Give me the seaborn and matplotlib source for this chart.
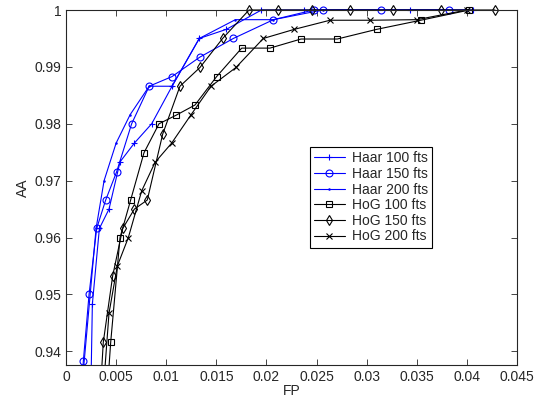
import numpy as np
import matplotlib
matplotlib.use("Agg")
import matplotlib.pyplot as plt
from matplotlib.patches import Rectangle
from matplotlib.ticker import FuncFormatter
import seaborn as sns

# values
haar100_fp = [0.0025, 0.00263, 0.00333, 0.00429, 0.00539, 0.00682, 0.00855, 0.01058, 0.0133, 0.0160, 0.0195, 0.0237, 0.0343, 0.0406]
haar100_aa = [0.935, 0.9483, 0.9616, 0.965, 0.9733, 0.9766, 0.980, 0.9866, 0.995, 0.9966, 1.0, 1.0, 1.0, 1.0]

haar150_fp = [0.0016, 0.00173, 0.0023, 0.00306, 0.00396, 0.00506, 0.00655, 0.0083, 0.01058, 0.01334, 0.0167, 0.0207, 0.0247, 0.0256, 0.0314, 0.0382]
haar150_aa = [0.935, 0.9383, 0.950, 0.9616, 0.9666, 0.9716, 0.980, 0.9866, 0.9883, 0.9917, 0.995, 0.9983, 1.0, 1.0, 1.0, 1.0]

haar200_fp = [0.0016, 0.0030, 0.0038, 0.0050, 0.0064, 0.0083, 0.01058, 0.0133, 0.0169, 0.0207, 0.0256, 0.0400]
haar200_aa = [0.934, 0.9616, 0.970, 0.9766, 0.9816, 0.9866, 0.9866, 0.995, 0.9983, 0.9983, 1.0, 1.0]

hog100_fp = [0.0042, 0.00446, 0.00539, 0.00645, 0.00778, 0.00928, 0.01098, 0.01287, 0.01503, 0.01753, 0.02035, 0.02345, 0.02707, 0.0310, 0.0354, 0.04024]
hog100_aa = [0.935, 0.9416, 0.960, 0.9666, 0.9749, 0.980, 0.9815, 0.9833, 0.9883, 0.9933, 0.9933, 0.9949, 0.9949, 0.9966, 0.9982, 1.0]

hog150_fp = [0.0035, 0.00372, 0.00466, 0.00566, 0.00682, 0.00811, 0.00965, 0.01137, 0.01337, 0.01563, 0.01826, 0.0212, 0.0245, 0.02834, 0.03266, 0.0374, 0.0428]
hog150_aa = [0.935, 0.9416, 0.9533, 0.9616, 0.965, 0.9666, 0.9782, 0.9866, 0.9899, 0.995, 1.0, 1.0, 1.0, 1.0, 1.0, 1.0, 1.0]

hog200_fp = [0.0038, 0.00429, 0.00512, 0.00622, 0.00755, 0.00888, 0.01054, 0.01244, 0.01447, 0.01696, 0.01969, 0.02278, 0.02634, 0.03033, 0.0350, 0.0400]
hog200_aa = [0.935, 0.9467, 0.955, 0.960, 0.9682, 0.9732, 0.9766, 0.9815, 0.9866, 0.9899, 0.995, 0.9966, 0.9982, 0.9982, 0.9983, 1.0]

series = [
    ("Haar 100 fts", haar100_fp, haar100_aa, "blue", "+"),
    ("Haar 150 fts", haar150_fp, haar150_aa, "blue", "o"),
    ("Haar 200 fts", haar200_fp, haar200_aa, "blue", "."),
    ("HoG 100 fts", hog100_fp, hog100_aa, "black", "s"),
    ("HoG 150 fts", hog150_fp, hog150_aa, "black", "d"),
    ("HoG 200 fts", hog200_fp, hog200_aa, "black", "x"),
]

sns.set_style("ticks")
plt.rcParams['font.family'] = ['Liberation Sans', 'DejaVu Sans']
plt.rcParams['xtick.direction'] = 'in'
plt.rcParams['ytick.direction'] = 'in'

fig = plt.figure(figsize=(5.38, 3.98), dpi=100)
ax = fig.add_axes([66/538, 1-365/398, (517-66)/538, (365-10)/398])

for name, fp, aa, col, mk in series:
    msize = 2 if mk == "." else 5
    sns.lineplot(x=fp, y=aa, ax=ax, color=col, marker=mk, markersize=msize,
                 markerfacecolor="none", markeredgecolor=col, markeredgewidth=0.8,
                 linewidth=0.8, label=name, sort=False, estimator=None)

# clip at the bottom only, so the markers sitting on AA = 1 are drawn whole
clip = Rectangle((-0.05, 0), 1.1, 1.1, transform=ax.transAxes, fill=False, visible=False)
ax.add_patch(clip)
for ln in ax.get_lines():
    ln.set_clip_path(clip)

ax.set_xlim(0, 0.045)
ax.set_ylim(0.9376, 1.0)
ax.set_xticks(np.arange(0, 0.0451, 0.005))
ax.set_yticks(np.arange(0.94, 1.0001, 0.01))
ax.xaxis.set_major_formatter(FuncFormatter(lambda v, p: "%g" % round(v, 4)))
ax.yaxis.set_major_formatter(FuncFormatter(lambda v, p: "%g" % round(v, 3)))
ax.tick_params(labelsize=10, top=True, right=True, length=4, width=0.6)
for s in ax.spines.values():
    s.set_linewidth(0.8)
ax.set_xlabel("FP", fontsize=10, labelpad=0)
ax.set_ylabel("AA", fontsize=10, labelpad=3)

leg = ax.legend(loc="upper left", bbox_to_anchor=(310/538, 1-147/398),
                bbox_transform=fig.transFigure, fontsize=10, frameon=True,
                fancybox=False, edgecolor="black", framealpha=1,
                handlelength=2.2, handletextpad=0.5, labelspacing=0.12,
                borderpad=0.3, borderaxespad=0)
leg.get_frame().set_linewidth(0.8)

fig.savefig("out.png", dpi=100)
